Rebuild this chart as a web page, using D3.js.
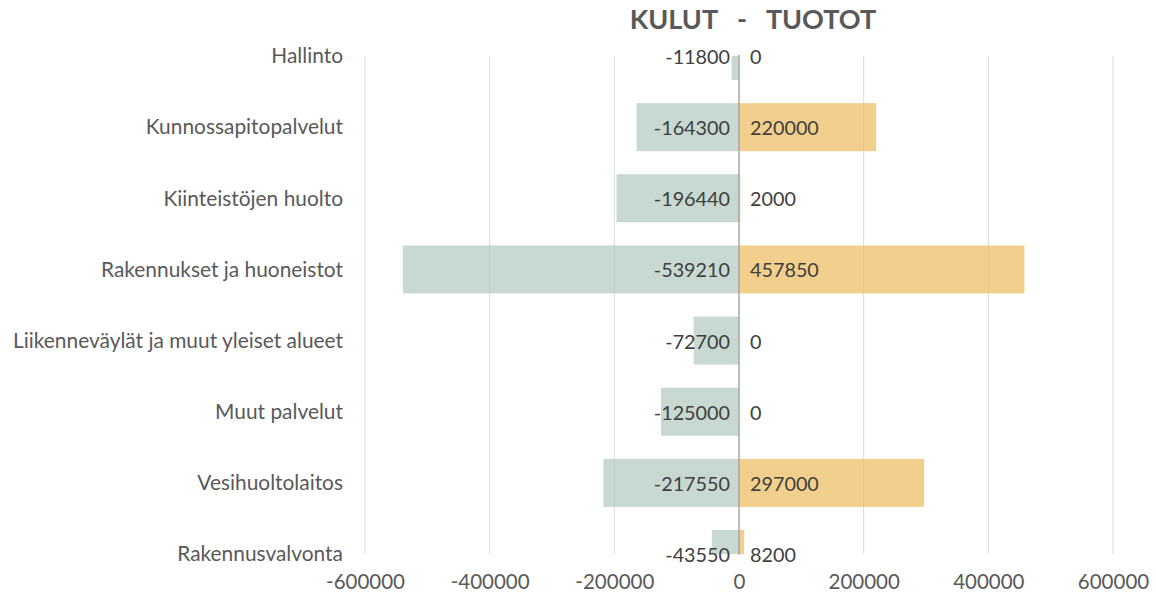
<!DOCTYPE html>
<html><head><meta charset="utf-8">
<script src="https://cdn.jsdelivr.net/npm/d3@7"></script>
<style>body{margin:0;background:#fff;}svg{display:block;}</style>
</head><body>
<script>
const categories = ["Hallinto","Kunnossapitopalvelut","Kiinteistöjen huolto","Rakennukset ja huoneistot","Liikenneväylät ja muut yleiset alueet","Muut palvelut","Vesihuoltolaitos","Rakennusvalvonta"];
const kulut = [-11800,-164300,-196440,-539210,-72700,-125000,-217550,-43550];
const tuotot = [0,220000,2000,457850,0,0,297000,8200];
const ticks = [-600000,-400000,-200000,0,200000,400000,600000];
const title = "KULUT   -   TUOTOT";

const W=1156,H=594;
const font="Lato, 'Open Sans', sans-serif";
const svg=d3.select("body").append("svg").attr("width",W).attr("height",H);
const x=d3.scaleLinear().domain([-600000,600000]).range([365,1113]);
const y=d3.scalePoint().domain(categories).range([56,554]);
const bh=48;

svg.append("defs").append("clipPath").attr("id","clip").append("rect")
  .attr("x",0).attr("y",56).attr("width",W).attr("height",554-56);

// gridlines
svg.append("g").selectAll("line").data(ticks.filter(t=>t!==0)).join("line")
  .attr("x1",d=>x(d)).attr("x2",d=>x(d)).attr("y1",56).attr("y2",554)
  .attr("stroke","#d9d9d9").attr("stroke-width",1);

const g=svg.append("g").attr("clip-path","url(#clip)");
g.selectAll("rect.k").data(categories).join("rect").attr("class","k")
  .attr("x",(d,i)=>x(kulut[i])).attr("width",(d,i)=>x(0)-x(kulut[i]))
  .attr("y",d=>y(d)-bh/2).attr("height",bh).attr("fill","#b7cec4").attr("fill-opacity",0.78);
g.selectAll("rect.t").data(categories).join("rect").attr("class","t")
  .attr("x",x(0)).attr("width",(d,i)=>x(tuotot[i])-x(0))
  .attr("y",d=>y(d)-bh/2).attr("height",bh).attr("fill","#edbf66").attr("fill-opacity",0.75);

// zero line
svg.append("line").attr("x1",x(0)).attr("x2",x(0)).attr("y1",55).attr("y2",555)
  .attr("stroke","#a6a6a6").attr("stroke-width",1.5);

// data labels
svg.append("g").selectAll("text").data(categories).join("text")
  .attr("x",x(0)-9).attr("y",d=>y(d)+1).attr("dy","0.35em").attr("text-anchor","end")
  .attr("font-family",font).attr("font-size",19.8).attr("fill","#404040")
  .text((d,i)=>kulut[i]);
svg.append("g").selectAll("text").data(categories).join("text")
  .attr("x",x(0)+11).attr("y",d=>y(d)+1).attr("dy","0.35em").attr("text-anchor","start")
  .attr("font-family",font).attr("font-size",19.8).attr("fill","#404040")
  .text((d,i)=>tuotot[i]);

// category labels
svg.append("g").selectAll("text").data(categories).join("text")
  .attr("x",343).attr("y",d=>y(d)).attr("dy","0.35em").attr("text-anchor","end")
  .attr("font-family",font).attr("font-size",20.9).attr("fill","#595959")
  .text(d=>d);

// x axis labels
const ax=svg.append("g").attr("transform","translate(0,582)")
  .call(d3.axisBottom(x).tickValues(ticks).tickSize(0).tickPadding(0).tickFormat(d=>String(d)));
ax.select(".domain").remove();
ax.selectAll("text").attr("font-family",font).attr("font-size",20.5).attr("fill","#595959").attr("dy","0.35em").attr("y",0);

// title
svg.append("text").attr("x",753).attr("y",20).attr("dy","0.35em").attr("text-anchor","middle")
  .attr("font-family",font).attr("font-size",27).attr("font-weight","bold").attr("fill","#595959")
  .attr("xml:space","preserve").style("white-space","pre").text(title);
</script>
</body></html>
